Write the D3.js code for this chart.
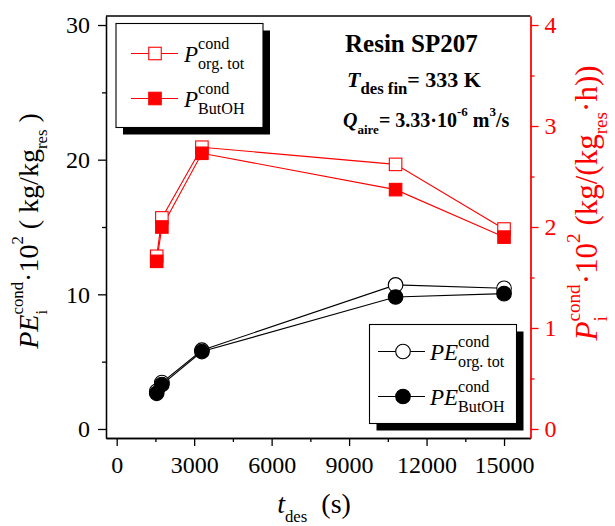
<!DOCTYPE html>
<html>
<head>
<meta charset="utf-8">
<script src="https://cdn.jsdelivr.net/npm/d3@7"></script>
<style>
  body { margin: 0; background: #fff; }
  svg text { font-family: "Liberation Serif", "Times New Roman", serif; white-space: pre; }
</style>
</head>
<body>
<div id="chart"></div>
<script>
var width = 615,
    height = 526;

// desorption time (s)
var tDes = [1550, 1750, 3300, 10800, 15000];
// left axis: PE_i^cond * 10^2 (kg/kg_res)
var peOrgTot = [2.8, 3.45, 5.85, 10.7, 10.45];
var peButOH = [2.65, 3.3, 5.75, 9.8, 10.05];
// right axis: P_i^cond * 10^2 (kg/(kg_res.h))
var pOrgTot = [1.71, 2.09, 2.79, 2.62, 1.98];
var pButOH = [1.66, 2.0, 2.73, 2.37, 1.9];

var xTicks = [0, 3000, 6000, 9000, 12000, 15000];
var xMinor = [1500, 4500, 7500, 10500, 13500];
var yTicks = [0, 10, 20, 30];
var yMinor = [5, 15, 25];
var y2Ticks = [0, 1, 2, 3, 4];
var y2Minor = [0.5, 1.5, 2.5, 3.5];

var RED = "#ff0000";

var svg = d3.select("#chart").append("svg")
    .attr("width", width)
    .attr("height", height);

var x = d3.scaleLinear().domain([-414, 16025]).range([106, 530.5]);
var y = d3.scaleLinear().domain([-0.67, 30.67]).range([438, 16]);
var y2 = d3.scaleLinear().domain([-0.67 * 4 / 30, 30.67 * 4 / 30]).range([438, 16]);

// rich text with super/subscripts, returns total width
function rich(g, parts, size, ss) {
    ss = ss || 0.7;
    var cx = 0;
    parts.forEach(function (p) {
        if (p.t === undefined) {
            var w = 0;
            if (p.sup) {
                var s = g.append("text").attr("x", cx).attr("y", -size * 0.55)
                    .style("font-size", (size * ss) + "px")
                    .style("font-weight", p.b ? "bold" : null)
                    .text(p.sup);
                w = Math.max(w, s.node().getComputedTextLength());
            }
            if (p.sub) {
                var b = g.append("text").attr("x", cx).attr("y", size * 0.33)
                    .style("font-size", (size * ss) + "px")
                    .style("font-weight", p.b ? "bold" : null)
                    .text(p.sub);
                w = Math.max(w, b.node().getComputedTextLength());
            }
            cx += w;
        } else {
            var t = g.append("text").attr("x", cx).attr("y", 0)
                .style("font-size", size + "px")
                .style("font-style", p.i ? "italic" : null)
                .style("font-weight", p.b ? "bold" : null)
                .text(p.t);
            cx += t.node().getComputedTextLength();
        }
    });
    return cx;
}

function styleAxis(g, color) {
    g.attr("font-family", null);
    g.selectAll("path, line").attr("stroke", color).attr("stroke-width", 1.3);
    g.selectAll("text").attr("fill", color).style("font-size", "24px");
}

// plot frame top
svg.append("line")
    .attr("x1", 106).attr("x2", 530.5)
    .attr("y1", 16).attr("y2", 16)
    .attr("stroke", "#000").attr("stroke-width", 1.3);

// x axis
var gx = svg.append("g").attr("transform", "translate(0,438)")
    .call(d3.axisBottom(x).tickValues(xTicks).tickSize(8).tickSizeOuter(0).tickPadding(10).tickFormat(d3.format("d")));
styleAxis(gx, "#000");
var gxm = svg.append("g").attr("transform", "translate(0,438)")
    .call(d3.axisBottom(x).tickValues(xMinor).tickSize(4).tickSizeOuter(0).tickFormat(""));
styleAxis(gxm, "#000");

// left y axis
var gy = svg.append("g").attr("transform", "translate(106,0)")
    .call(d3.axisLeft(y).tickValues(yTicks).tickSize(8).tickSizeOuter(0).tickPadding(8));
styleAxis(gy, "#000");
var gym = svg.append("g").attr("transform", "translate(106,0)")
    .call(d3.axisLeft(y).tickValues(yMinor).tickSize(4).tickSizeOuter(0).tickFormat(""));
styleAxis(gym, "#000");

// right y axis (red)
var gy2 = svg.append("g").attr("transform", "translate(530.5,0)")
    .call(d3.axisRight(y2).tickValues(y2Ticks).tickSize(8).tickSizeOuter(0).tickPadding(6).tickFormat(d3.format("d")));
styleAxis(gy2, RED);
var gy2m = svg.append("g").attr("transform", "translate(530.5,0)")
    .call(d3.axisRight(y2).tickValues(y2Minor).tickSize(4).tickSizeOuter(0).tickFormat(""));
styleAxis(gy2m, RED);

// series
function drawLine(vals, scale, color) {
    svg.append("path")
        .datum(vals)
        .attr("fill", "none")
        .attr("stroke", color)
        .attr("stroke-width", 1.1)
        .attr("d", d3.line()
            .x(function (d, i) { return x(tDes[i]); })
            .y(function (d) { return scale(d); }));
}
drawLine(pOrgTot, y2, RED);
drawLine(pButOH, y2, RED);
drawLine(peOrgTot, y, "#000");
drawLine(peButOH, y, "#000");

var sq = 12.5;
function drawSquares(vals, filled) {
    svg.append("g").selectAll("rect")
        .data(vals)
        .enter().append("rect")
        .attr("x", function (d, i) { return x(tDes[i]) - sq / 2; })
        .attr("y", function (d) { return y2(d) - sq / 2; })
        .attr("width", sq).attr("height", sq)
        .attr("fill", filled ? RED : "#fff")
        .attr("stroke", RED).attr("stroke-width", 1.1);
}
function drawCircles(vals, filled) {
    svg.append("g").selectAll("circle")
        .data(vals)
        .enter().append("circle")
        .attr("cx", function (d, i) { return x(tDes[i]); })
        .attr("cy", function (d) { return y(d); })
        .attr("r", 7.3)
        .attr("fill", filled ? "#000" : "#fff")
        .attr("stroke", "#000").attr("stroke-width", 1.1);
}
drawSquares(pOrgTot, false);
drawSquares(pButOH, true);
drawCircles(peOrgTot, false);
drawCircles(peButOH, true);

// legends
function legendBox(x0, y0, w, h) {
    svg.append("rect").attr("x", x0 + 7).attr("y", y0 + 7).attr("width", w).attr("height", h).attr("fill", "#000");
    svg.append("rect").attr("x", x0).attr("y", y0).attr("width", w).attr("height", h)
        .attr("fill", "#fff").attr("stroke", "#000").attr("stroke-width", 1.1);
}

legendBox(116, 23.5, 147, 104);
var leg1 = [
    {y: 53.5, filled: false, sub: "org. tot"},
    {y: 98.5, filled: true, sub: "ButOH"}
];
leg1.forEach(function (d) {
    svg.append("line").attr("x1", 131).attr("x2", 178).attr("y1", d.y).attr("y2", d.y)
        .attr("stroke", RED).attr("stroke-width", 1.1);
    svg.append("rect").attr("x", 155 - sq / 2).attr("y", d.y - sq / 2).attr("width", sq).attr("height", sq)
        .attr("fill", d.filled ? RED : "#fff").attr("stroke", RED).attr("stroke-width", 1.1);
    var g = svg.append("g").attr("transform", "translate(184," + (d.y + 8) + ")");
    rich(g, [{t: "P", i: 1}, {sup: "cond", sub: d.sub}], 23);
});

legendBox(369.5, 324.5, 147, 99);
var leg2 = [
    {y: 351.5, filled: false, sub: "org. tot"},
    {y: 396.5, filled: true, sub: "ButOH"}
];
leg2.forEach(function (d) {
    svg.append("line").attr("x1", 378).attr("x2", 425).attr("y1", d.y).attr("y2", d.y)
        .attr("stroke", "#000").attr("stroke-width", 1.1);
    svg.append("circle").attr("cx", 403).attr("cy", d.y).attr("r", 7.3)
        .attr("fill", d.filled ? "#000" : "#fff").attr("stroke", "#000").attr("stroke-width", 1.1);
    var g = svg.append("g").attr("transform", "translate(430," + (d.y + 8) + ")");
    rich(g, [{t: "PE", i: 1}, {sup: "cond", sub: d.sub}], 23);
});

// annotation text
var tg1 = svg.append("g").attr("transform", "translate(345,52)");
rich(tg1, [{t: "Resin SP207", b: 1}], 25);
var tg2 = svg.append("g").attr("transform", "translate(347,87)");
rich(tg2, [{t: "T", i: 1, b: 1}, {sub: "des fin", b: 1}, {t: "= 333 K", b: 1}], 22, 0.76);
var tg3 = svg.append("g").attr("transform", "translate(343,127)");
rich(tg3, [{t: "Q", i: 1, b: 1}, {sub: "aire", b: 1}, {t: "= 3.33·10", b: 1}, {sup: "-6", b: 1},
    {t: " m", b: 1}, {sup: "3", b: 1}, {t: "/s", b: 1}], 20, 0.65);

// axis titles
var xt = svg.append("g").attr("transform", "translate(314,513)");
var xti = xt.append("g");
var wx = rich(xti, [{t: "t", i: 1}, {sub: "des"}, {t: "  (s)"}], 28, 0.6);
xti.attr("transform", "translate(" + (-wx / 2) + ",0)");

var ylt = svg.append("g").attr("transform", "translate(38,231) rotate(-90)");
var ylti = ylt.append("g");
var wy = rich(ylti, [{t: "PE", i: 1}, {sup: "cond", sub: "i"}, {t: "·10"}, {sup: "2"},
    {t: " ( kg/kg"}, {sub: "res"}, {t: " )"}], 28, 0.6);
ylti.attr("transform", "translate(" + (-wy / 2) + ",0)");

var yrt = svg.append("g").attr("transform", "translate(597,203) rotate(-90)").attr("fill", RED);
var yrti = yrt.append("g");
var wy2 = rich(yrti, [{t: "P", i: 1}, {sup: "cond", sub: "i"}, {t: "·10"}, {sup: "2"},
    {t: " (kg/(kg"}, {sub: "res"}, {t: "·h))"}], 31, 0.62);
yrti.attr("transform", "translate(" + (-wy2 / 2) + ",0)");
</script>
</body>
</html>
